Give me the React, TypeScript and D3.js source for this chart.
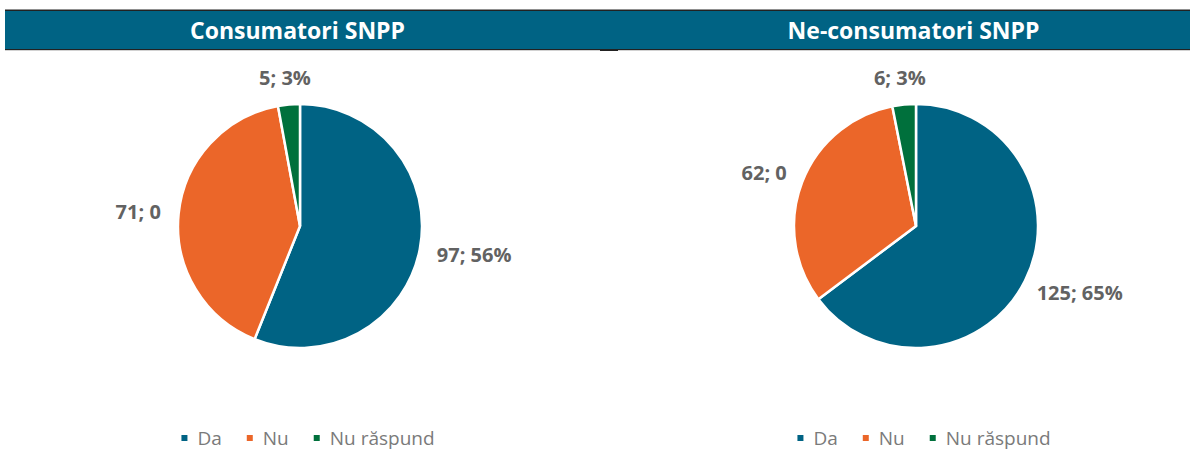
import * as d3 from "d3";

// categories and values
const categories = ["Da", "Nu", "Nu răspund"];
const colors = ["#006384", "#EB6629", "#00703C"];
const titles = ["Consumatori SNPP", "Ne-consumatori SNPP"];
const consumatoriValues = [97, 71, 5];
const consumatoriLabels = ["97; 56%", "71; 0", "5; 3%"];
const neConsumatoriValues = [125, 62, 6];
const neConsumatoriLabels = ["125; 65%", "62; 0", "6; 3%"];

const W = 1190;
const H = 450;
const radius = 122;
const pieY = 226;
const labelFont = "bold 20px 'Open Sans'";
const legendFont = "19px 'Open Sans'";

// measure text with a canvas so labels and legend can be placed like Excel does
const ctx = document.createElement("canvas").getContext("2d")!;
const measure = (text: string, font: string) => {
  ctx.font = font;
  return ctx.measureText(text).width;
};

const panels = [
  { cx: 300, title: titles[0], values: consumatoriValues, labels: consumatoriLabels },
  { cx: 916, title: titles[1], values: neConsumatoriValues, labels: neConsumatoriLabels },
];

const pie = d3
  .pie<number>()
  .sort(null)
  .value((d) => d);
const arc = d3.arc<d3.PieArcDatum<number>>().innerRadius(0).outerRadius(radius);

const Legend = ({ cx }: { cx: number }) => {
  const gap = 25;
  const widths = categories.map((c) => 16 + measure(c, legendFont));
  const total = d3.sum(widths) + gap * (categories.length - 1);
  let x = cx - total / 2;
  return (
    <g>
      {categories.map((c, i) => {
        const x0 = x;
        x += widths[i] + gap;
        return (
          <g key={c}>
            <rect x={x0} y={435} width={6} height={6} fill={colors[i]} />
            <text x={x0 + 16} y={445} fill="#7a7a7a" style={{ font: legendFont }}>
              {c}
            </text>
          </g>
        );
      })}
    </g>
  );
};

const Pie = ({ cx, values, labels }: { cx: number; values: number[]; labels: string[] }) => {
  const arcs = pie(values);
  return (
    <g transform={`translate(${cx},${pieY})`}>
      {arcs.map((a, i) => (
        <path key={i} d={arc(a)!} fill={colors[i]} stroke="#fff" strokeWidth={2.5} />
      ))}
      {arcs.map((a, i) => {
        const mid = (a.startAngle + a.endAngle) / 2;
        const dx = Math.sin(mid);
        const dy = -Math.cos(mid);
        const w = measure(labels[i], labelFont);
        const r = radius + 18;
        const x = dx * r + (dx * w) / 2;
        const y = dy * r + dy * 9;
        return (
          <text
            key={"l" + i}
            x={x}
            y={y}
            textAnchor="middle"
            dominantBaseline="central"
            fill="#626262"
            style={{ font: labelFont }}
          >
            {labels[i]}
          </text>
        );
      })}
    </g>
  );
};

export default function App() {
  return (
    <svg
      width={W}
      height={H}
      style={{ position: "absolute", left: 0, top: 0, background: "#fff" }}
    >
      {/* header band */}
      <rect x={5} y={9.5} width={W - 5} height={1.5} fill="#222" />
      <rect x={5} y={11} width={W - 5} height={38} fill="#006384" />
      <rect x={5} y={49} width={W - 5} height={1.2} fill="#222" />
      <rect x={600} y={49} width={18} height={2} fill="#222" />
      {panels.map((p) => (
        <text
          key={p.title}
          x={p.cx - 2.5}
          y={30}
          textAnchor="middle"
          dominantBaseline="central"
          fill="#fff"
          style={{ font: "bold 23px 'Open Sans'" }}
        >
          {p.title}
        </text>
      ))}
      {panels.map((p) => (
        <g key={"p" + p.title}>
          <Pie cx={p.cx} values={p.values} labels={p.labels} />
          <Legend cx={p.cx + 8} />
        </g>
      ))}
    </svg>
  );
}
